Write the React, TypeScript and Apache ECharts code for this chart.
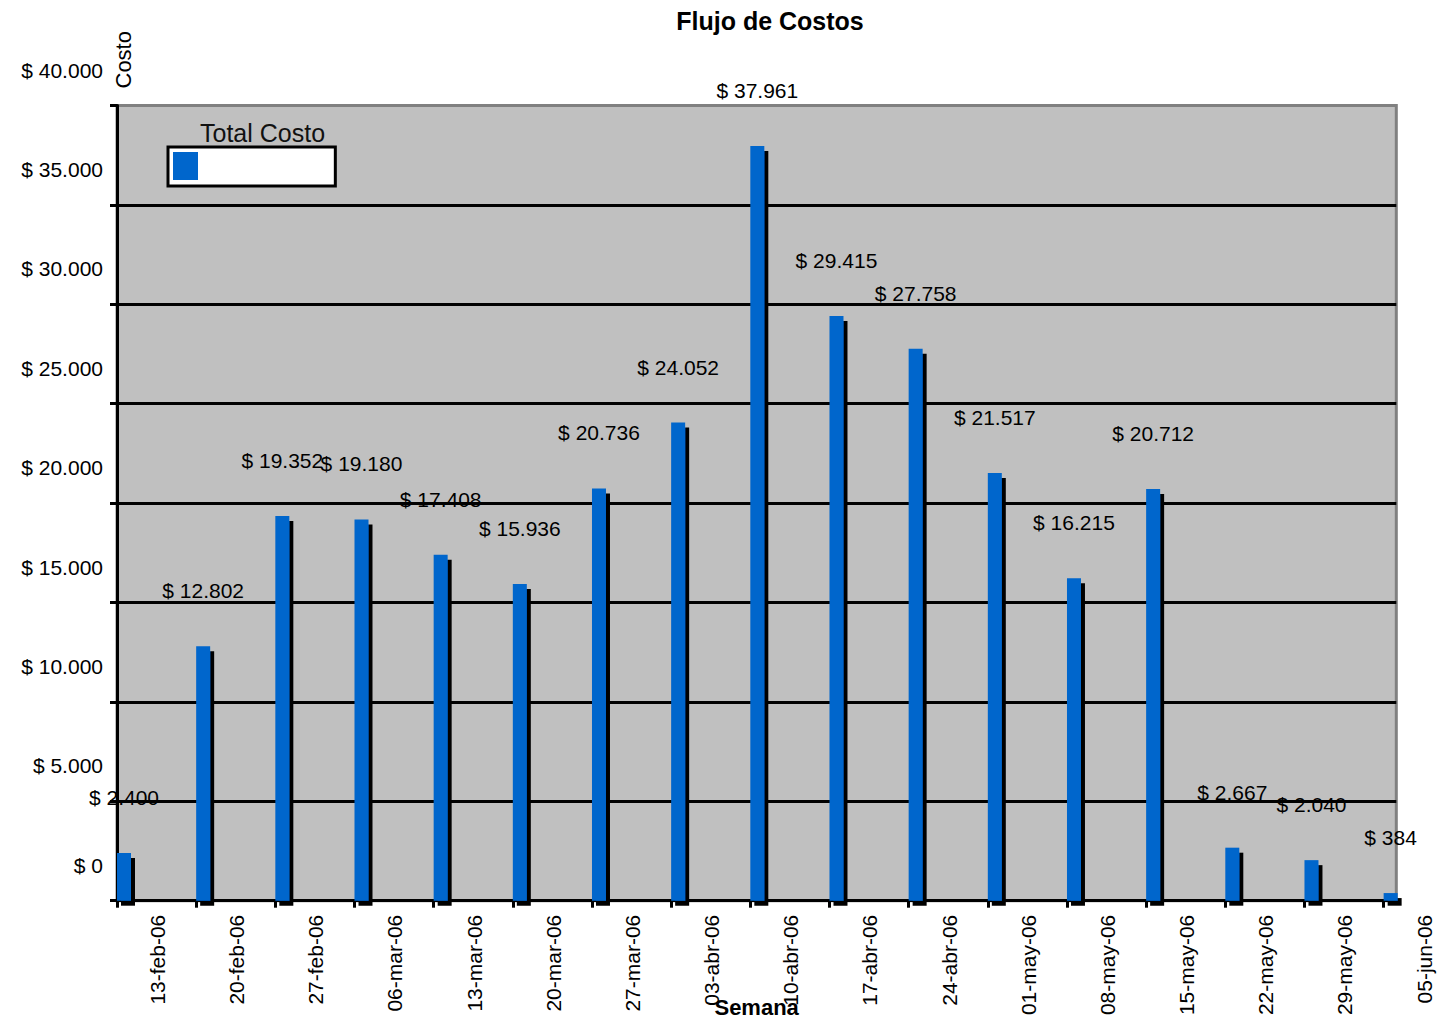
import React, { useEffect, useRef } from "react";
import * as echarts from "echarts";

const categories = [
  "13-feb-06", "20-feb-06", "27-feb-06", "06-mar-06", "13-mar-06", "20-mar-06",
  "27-mar-06", "03-abr-06", "10-abr-06", "17-abr-06", "24-abr-06", "01-may-06",
  "08-may-06", "15-may-06", "22-may-06", "29-may-06", "05-jun-06",
];
const totalCosto = [
  2400, 12802, 19352, 19180, 17408, 15936, 20736, 24052, 37961, 29415, 27758,
  21517, 16215, 20712, 2667, 2040, 384,
];

const FONT = "'Liberation Sans', Arial, sans-serif";
const fmt = (v: number) => "$ " + String(Math.round(v)).replace(/\B(?=(\d{3})+(?!\d))/g, ".");

export default function App() {
  const ref = useRef<HTMLDivElement>(null);
  useEffect(() => {
    if (!ref.current) return;
    const chart = echarts.init(ref.current, undefined, { renderer: "svg" });
    const points = totalCosto.map((v, i) => [i, v]);
    chart.setOption({
      animation: false,
      backgroundColor: "#ffffff",
      title: [
        {
          text: "Flujo de Costos",
          left: 770,
          top: 8,
          padding: 0,
          textAlign: "center",
          textStyle: { fontFamily: FONT, fontSize: 25, fontWeight: "bold", color: "#000" },
        },
        {
          text: "Total Costo",
          left: 200,
          top: 120,
          padding: 0,
          textStyle: { fontFamily: FONT, fontSize: 25, fontWeight: "normal", color: "#111" },
        },
      ],
      legend: {
        data: ["Total Costo"],
        left: 168,
        top: 147,
        orient: "horizontal",
        padding: [5, 129, 6, 5],
        backgroundColor: "#ffffff",
        borderColor: "#000000",
        borderWidth: 3,
        itemWidth: 25,
        itemHeight: 28,
        itemGap: 0,
        icon: "rect",
        formatter: () => " ",
        textStyle: { fontSize: 12 },
        itemStyle: { shadowBlur: 0, shadowOffsetX: 0, shadowOffsetY: 0 },
      },
      grid: {
        left: 117,
        top: 105.5,
        right: 42.7,
        bottom: 118.3,
        show: true,
        backgroundColor: "#C0C0C0",
        borderColor: "#808080",
        borderWidth: 3,
        containLabel: false,
        outerBoundsMode: "none",
      },
      xAxis: {
        type: "value",
        min: 0,
        max: 16.16,
        interval: 1,
        name: "Semana",
        nameLocation: "middle",
        nameGap: 96,
        nameMoveOverlap: false,
        nameTextStyle: { fontFamily: FONT, fontSize: 22, fontWeight: "bold", color: "#000" },
        axisLine: { show: true, lineStyle: { color: "#000", width: 3 } },
        axisTick: { show: true, length: 7, lineStyle: { color: "#000", width: 3 } },
        axisLabel: {
          rotate: 90,
          margin: 14,
          align: "right",
          verticalAlign: "top",
          padding: [30, 0, 0, 0],
          fontFamily: FONT,
          fontSize: 21,
          color: "#000",
          showMaxLabel: false,
          formatter: (v: number) => (Number.isInteger(v) && categories[v]) || "",
        },
        splitLine: { show: false },
      },
      yAxis: {
        type: "value",
        min: 0,
        max: 40000,
        interval: 5000,
        name: "Costo",
        nameLocation: "end",
        nameRotate: 90,
        nameGap: 17,
        nameTextStyle: {
          fontFamily: FONT,
          fontSize: 22,
          color: "#000",
          verticalAlign: "top",
          lineHeight: 12,
        },
        axisLine: { show: true, lineStyle: { color: "#000", width: 3 } },
        axisTick: { show: true, length: 7, lineStyle: { color: "#000", width: 3 } },
        axisLabel: {
          margin: 14,
          align: "right",
          verticalAlign: "bottom",
          padding: [0, 0, 25, 0],
          fontFamily: FONT,
          fontSize: 21,
          color: "#000",
          formatter: (v: number) => fmt(v),
        },
        splitLine: {
          show: true,
          showMinLine: false,
          showMaxLine: false,
          lineStyle: { color: "#000", width: 3 },
        },
      },
      series: [
        {
          name: "_spacer",
          type: "bar",
          data: [],
          barWidth: 14,
          barGap: "0%",
          silent: true,
        },
        {
          name: "Total Costo",
          type: "bar",
          data: points,
          barWidth: 14,
          barGap: "0%",
          itemStyle: {
            color: "#0066CC",
            shadowColor: "#000000",
            shadowBlur: 0,
            shadowOffsetX: 4,
            shadowOffsetY: 5,
          },
          label: {
            show: true,
            position: "top",
            distance: 45,
            fontFamily: FONT,
            fontSize: 21,
            color: "#000",
            formatter: (p: any) => fmt(p.value[1]),
          },
        },
      ],
    });
    return () => chart.dispose();
  }, []);
  return (
    <div
      ref={ref}
      style={{ position: "fixed", left: 0, top: 0, width: 1439, height: 1019 }}
    />
  );
}
